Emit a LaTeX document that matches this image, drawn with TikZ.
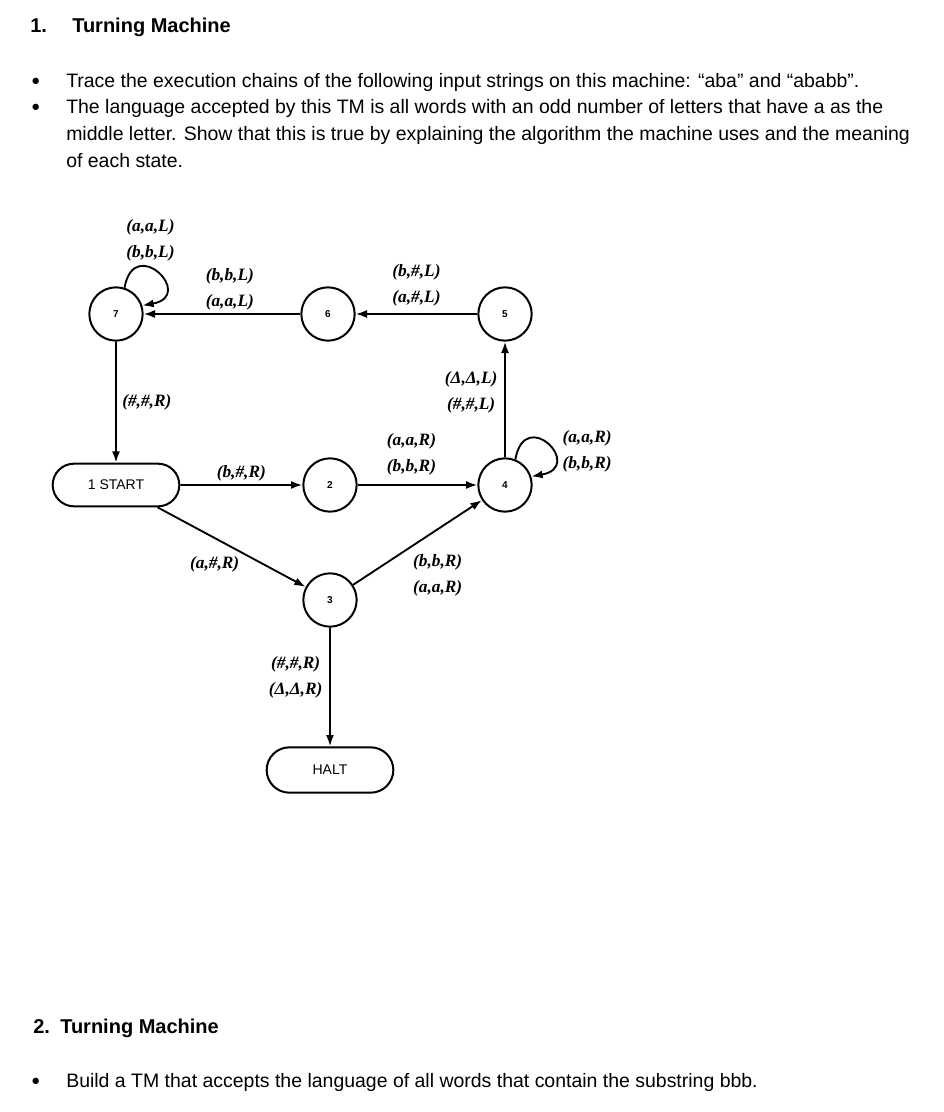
\documentclass[tikz,border=0pt]{standalone}
\usepackage{fontspec}
\setmainfont{Liberation Sans}
\newfontfamily\lblSerif{Liberation Serif}
\usetikzlibrary{arrows.meta,shapes.misc,positioning}

\begin{document}
\begin{tikzpicture}[
    x=0.75pt, y=0.75pt,
    stateNode/.style={
        circle, draw, line width=1.5pt, minimum size=40pt, inner sep=0pt,
        font=\fontsize{7.5}{8}\selectfont\bfseries
    },
    termNode/.style={
        rounded rectangle, draw, line width=1.5pt, inner sep=0pt,
        minimum width=95pt, minimum height=32pt,
        font=\fontsize{10.5}{12}\selectfont
    },
    trans/.style={
        -{Latex[length=8.5pt,width=6pt]}, line width=1.4pt
    },
    transLbl/.style={
        font=\lblSerif\fontsize{13}{19.5}\selectfont\bfseries\itshape,
        align=center, inner sep=2pt
    },
    headText/.style={
        font=\fontsize{15}{17}\selectfont\bfseries, anchor=base west, inner sep=0pt
    },
    bodyText/.style={
        font=\fontsize{14.6}{20}\selectfont, anchor=base west, inner sep=0pt
    },
    bulletMark/.style={
        font=\fontsize{11}{12}\selectfont, anchor=base west, inner sep=0pt
    }
]

    % Page frame
    \fill[white] (0,0) rectangle (944,-1112);
    \useasboundingbox (0,0) rectangle (944,-1112);

    % Question 1 text
    \node[headText] (q1Num) at (30,-33) {1.};
    \node[headText] (q1Head) at (72,-33) {Turning Machine};
    \node[bulletMark] (q1BulA) at (31,-86) {●};
    \node[bodyText] (q1TxtA) at (66,-88) {Trace the execution chains of the following input strings on this machine: “aba” and “ababb”.};
    \node[bulletMark] (q1BulB) at (31,-112) {●};
    \node[bodyText] (q1TxtB) at (66,-114) {The language accepted by this TM is all words with an odd number of letters that have a as the};
    \node[bodyText] (q1TxtC) at (66,-141) {middle letter. Show that this is true by explaining the algorithm the machine uses and the meaning};
    \node[bodyText] (q1TxtD) at (66,-168) {of each state.};

    % States
    \node[stateNode] (s7) at (116,-314) {7};
    \node[stateNode] (s6) at (328,-314) {6};
    \node[stateNode] (s5) at (505,-314) {5};
    \node[termNode] (sStart) at (116,-485) {1 START};
    \node[stateNode] (s2) at (330,-485) {2};
    \node[stateNode] (s4) at (505,-485) {4};
    \node[stateNode] (s3) at (330,-600) {3};
    \node[termNode, minimum height=34pt] (sHalt) at (330,-770) {HALT};

    % Transitions
    \draw[trans] (s7.72) .. controls +(80:55) and +(10:55) .. node[transLbl, above=2pt, pos=0.4] {(a,a,L)\\(b,b,L)} (s7.18);
    \draw[trans] (s6) -- node[transLbl, above, pos=0.45] {(b,b,L)\\(a,a,L)} (s7);
    \draw[trans] (s5) -- node[transLbl, above=3pt] {(b,\#,L)\\(a,\#,L)} (s6);
    \draw[trans] (s7) -- node[transLbl, right=2pt] {(\#,\#,R)} (sStart);
    \draw[trans] (sStart) -- node[transLbl, above] {(b,\#,R)} (s2);
    \draw[trans] (s2) -- node[transLbl, above=5pt, pos=0.45] {(a,a,R)\\(b,b,R)} (s4);
    \draw[trans] (s4) -- node[transLbl, left=3pt, pos=0.56] {(Δ,Δ,L)\\(\#,\#,L)} (s5);
    \draw[trans] (s4.68) .. controls +(80:55) and +(10:55) .. node[transLbl, right=4pt, pos=0.7, yshift=5pt] {(a,a,R)\\(b,b,R)} (s4.18);
    \draw[trans] (sStart) -- node[transLbl, below left=7pt and -14pt, pos=0.45] {(a,\#,R)} (s3);
    \draw[trans] (s3) -- node[transLbl, below right=6pt and -6pt, pos=0.5] {(b,b,R)\\(a,a,R)} (s4);
    \draw[trans] (s3) -- node[transLbl, left=3pt, pos=0.42] {(\#,\#,R)\\(Δ,Δ,R)} (sHalt);

    % Question 2 text
    \node[headText] (q2Num) at (33,-1033) {2.};
    \node[headText] (q2Head) at (60,-1033) {Turning Machine};
    \node[bulletMark] (q2BulA) at (31,-1085) {●};
    \node[bodyText] (q2TxtA) at (66,-1087) {Build a TM that accepts the language of all words that contain the substring bbb.};

\end{tikzpicture}
\end{document}
